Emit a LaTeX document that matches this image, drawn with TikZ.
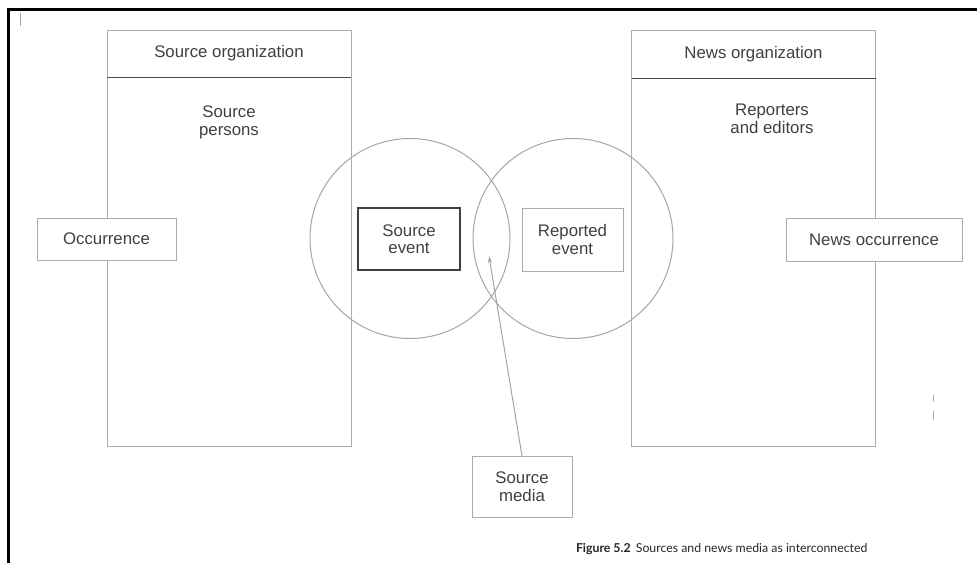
\documentclass[tikz,border=0pt]{standalone}
\usepackage{fontspec}
\setmainfont{Liberation Sans}
\newfontfamily\capfont{Lato}
\usetikzlibrary{arrows.meta}
\begin{document}
\begin{tikzpicture}[x=1pt,y=-1pt,
  every node/.style={inner sep=0pt, outer sep=0pt, text=black!75, font=\fontsize{16.8}{17.5}\selectfont},
  frameline/.style={draw=gray!65, line width=0.9pt},
  orgbox/.style={frameline, rectangle, minimum width=244pt},
  smallbox/.style={frameline, rectangle, fill=white, align=center},
  darkbox/.style={draw=black!75, line width=1.2pt, rectangle, fill=white, align=center},
  ring/.style={draw=gray!70, line width=1pt, circle, minimum size=200pt},
  txt/.style={align=center}
]
\useasboundingbox (0,0) rectangle (977,563);
\fill[white] (0,0) rectangle (977,563);
% scanned frame
\draw[black, line width=3pt] (8,563) -- (8,9.5) -- (977,9.5);
\draw[gray!70, line width=1pt] (20,13) -- (20,26);
\draw[gray!60, line width=0.8pt] (933,395) -- (933,402) (933,411) -- (933,420);

% organisations
\node[orgbox, minimum height=47pt] (lhead) at (229,53.5) {Source organization};
\node[orgbox, minimum height=369pt, anchor=north] (lbody) at (lhead.south) {};
\node[orgbox, minimum height=48pt] (rhead) at (753.5,54) {News organization};
\node[orgbox, minimum height=368pt, anchor=north] (rbody) at (rhead.south) {};
\draw[black!70, line width=1pt] (lhead.south west) -- (lhead.south east);
\draw[black!70, line width=1pt] (rhead.south west) -- (rhead.south east);

\node[txt] (persons) at (229,122.5) {Source\\persons};
\node[txt] (editors) at (772,119) {Reporters\\and editors};

% circles
\node[ring] (lring) at (410,238.5) {};
\node[ring] (rring) at (573,238.5) {};

% boxes
\node[smallbox, minimum width=139pt, minimum height=42pt] (occ) at (106.5,239) {Occurrence};
\node[smallbox, minimum width=176pt, minimum height=43pt] (newsocc) at (874,239.5) {News occurrence};
\node[darkbox, minimum width=102pt, minimum height=62pt] (sevent) at (409,239) {Source\\event};
\node[smallbox, minimum width=101pt, minimum height=63pt] (revent) at (572.5,239.5) {Reported\\event};
\node[smallbox, minimum width=100pt, minimum height=61pt] (media) at (522,486.5) {Source\\media};

% arrow
\coordinate (tip) at (489,256);
\draw[gray!75, line width=0.9pt, -{Stealth[length=7pt,width=4pt]}] (media.north) -- (tip);

% caption
\node[anchor=base west, font=\capfont\fontsize{12.3}{14}\selectfont, text=black!85] (cap) at (576,552)
  {\textbf{Figure 5.2}\, Sources and news media as interconnected};
\end{tikzpicture}
\end{document}
